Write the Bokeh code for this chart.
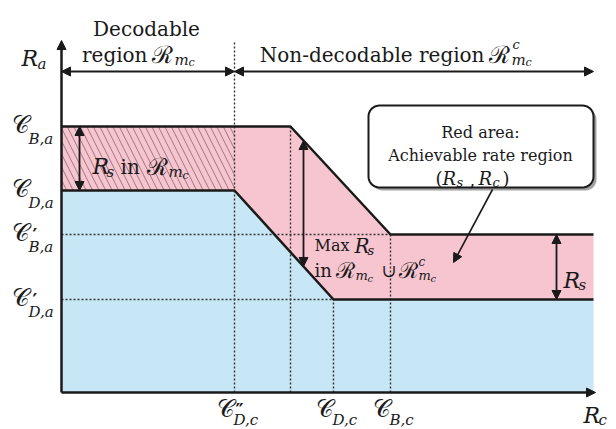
import numpy as np
from bokeh.plotting import figure
from bokeh.models import Range1d, Arrow, NormalHead, ColumnDataSource, Label
from bokeh.embed import file_html
from bokeh.resources import INLINE
from bokeh.core.properties import value

# ---------------- data (rates, arbitrary units) ----------------
rc_tick_values = [173, 272, 329]            # C''_D,c , C_D,c , C_B,c
rc_tick_primes = ["″", "", ""]
rc_tick_subs = ["D,c", "D,c", "B,c"]
ra_tick_values = [266, 202, 158, 93]        # C_B,a , C_D,a , C'_B,a , C'_D,a
ra_tick_primes = ["", "", "′", "′"]
ra_tick_subs = ["B,a", "D,a", "B,a", "D,a"]
upper_knee_rc = 229                         # end of flat upper boundary
rc_max = 532
ra_max = 352

upper_x = [0, upper_knee_rc, rc_tick_values[2], rc_max]
upper_y = [ra_tick_values[0], ra_tick_values[0], ra_tick_values[2], ra_tick_values[2]]
lower_x = [0, rc_tick_values[0], rc_tick_values[1], rc_max]
lower_y = [ra_tick_values[1], ra_tick_values[1], ra_tick_values[3], ra_tick_values[3]]

# ---------------- figure ----------------
W, H = 616, 429
X0, Y0 = 61, 392   # page pixel of the origin
p = figure(width=W, height=H,
           x_range=Range1d(-X0, W - X0),
           y_range=Range1d(Y0 - H, Y0),
           output_backend="svg", toolbar_location=None, min_border=0)
p.axis.visible = False
p.grid.visible = False
p.outline_line_color = None
p.background_fill_color = "white"

INK = "#1a1a1a"
PINK = "#f6c5cf"
BLUE = "#c7e6f6"
SERIF = "DejaVu Serif"


def px(x, y):
    return x - X0, Y0 - y


def t(x, y, s, size, style="normal", align="left", baseline="alphabetic"):
    dx, dy = px(x, y)
    p.add_layout(Label(x=dx, y=dy, text=s, text_font=SERIF,
                       text_font_size=f"{size}px", text_font_style=style,
                       text_align=align, text_baseline=baseline, text_color=INK))


# regions
p.patch([0] + lower_x + [rc_max], [0] + lower_y + [0],
        fill_color=BLUE, line_color=None)
p.patch(upper_x + lower_x[::-1], upper_y + lower_y[::-1],
        fill_color=PINK, line_color=None)
p.quad(left=[0], right=[rc_tick_values[0]], bottom=[ra_tick_values[1]], top=[ra_tick_values[0]],
       fill_alpha=0, line_color=None, hatch_pattern="left_diagonal_line",
       hatch_color="#6a4a52", hatch_alpha=0.8, hatch_scale=13, hatch_weight=0.8)

# dotted guide lines
vx = [rc_tick_values[0], upper_knee_rc, rc_tick_values[1], rc_tick_values[2]]
vtop = [ra_max, ra_tick_values[0], ra_tick_values[3], ra_tick_values[2]]
p.segment(x0=vx, y0=[0] * 4, x1=vx, y1=vtop, line_color="#333333",
          line_width=1.4, line_dash="2 2")
p.segment(x0=[0, 0], y0=[ra_tick_values[2], ra_tick_values[3]],
          x1=[rc_tick_values[2], rc_tick_values[1]], y1=[ra_tick_values[2], ra_tick_values[3]],
          line_color="#333333", line_width=1.4, line_dash="2 2")

# boundaries
p.line(upper_x, upper_y, line_color=INK, line_width=2.5)
p.line(lower_x, lower_y, line_color=INK, line_width=2.5)


def head():
    return NormalHead(size=9, fill_color=INK, line_color=INK)


def arrow(x0, y0, x1, y1, both=False, lw=2):
    p.add_layout(Arrow(x_start=x0, y_start=y0, x_end=x1, y_end=y1,
                       start=head() if both else None, end=head(),
                       line_color=INK, line_width=lw))


# axes
arrow(0, 0, 0, ra_max, lw=2.5)
arrow(0, 0, rc_max + 2, 0, lw=2.5)

# header arrows
hy = ra_max - 31
arrow(0, hy, rc_tick_values[0], hy, both=True, lw=1.8)
arrow(rc_tick_values[0], hy, rc_max, hy, both=True, lw=1.8)

# vertical double arrows
a1x = 18
arrow(a1x, ra_tick_values[1], a1x, ra_tick_values[0], both=True, lw=1.8)
a2x = 242
arrow(a2x, float(np.interp(a2x, lower_x, lower_y)), a2x,
      float(np.interp(a2x, upper_x, upper_y)), both=True, lw=1.8)
a3x = 495
arrow(a3x, ra_tick_values[3], a3x, ra_tick_values[2], both=True, lw=1.8)

# tick labels
src_rc = ColumnDataSource(dict(x=rc_tick_values, y=[0] * 3, main=["𝒞"] * 3,
                               prime=rc_tick_primes, sub=rc_tick_subs))
p.text(x="x", y="y", text="main", source=src_rc, x_offset=-18, y_offset=16,
       text_baseline="middle", text_font=value(SERIF), text_font_size="24px", text_color=INK)
p.text(x="x", y="y", text="prime", source=src_rc, x_offset=1, y_offset=18,
       text_baseline="alphabetic", text_font=value(SERIF), text_font_size="18px",
       text_font_style="bold", text_color=INK)
p.text(x="x", y="y", text="sub", source=src_rc, x_offset=-1, y_offset=27,
       text_baseline="alphabetic", text_font=value(SERIF), text_font_size="15px",
       text_font_style="italic", text_color=INK)

src_ra = ColumnDataSource(dict(x=[0] * 4, y=ra_tick_values, main=["𝒞"] * 4,
                               prime=ra_tick_primes, sub=ra_tick_subs))
p.text(x="x", y="y", text="main", source=src_ra, x_offset=-50, y_offset=-2,
       text_baseline="middle", text_font=value(SERIF), text_font_size="24px", text_color=INK)
p.text(x="x", y="y", text="prime", source=src_ra, x_offset=-29, y_offset=1,
       text_baseline="alphabetic", text_font=value(SERIF), text_font_size="18px",
       text_font_style="bold", text_color=INK)
p.text(x="x", y="y", text="sub", source=src_ra, x_offset=-33, y_offset=12,
       text_baseline="alphabetic", text_font=value(SERIF), text_font_size="15px",
       text_font_style="italic", text_color=INK)

# axis names
t(21, 58, "R", 22, "italic"); t(37, 63, "a", 15, "italic")
t(583, 415, "R", 22, "italic"); t(598, 419, "c", 15, "italic")

# header texts
t(146, 28, "Decodable", 20, align="center")
t(147, 54, "region", 20, align="right")
t(151, 54, "ℛ", 24); t(174, 59, "m", 15, "italic"); t(188, 62, "c", 11, "italic")
t(484, 54, "Non-decodable region", 20, align="right")
t(488, 54, "ℛ", 24); t(512, 44, "c", 13, "italic")
t(511, 59, "m", 15, "italic"); t(525, 62, "c", 11, "italic")

# hatched label
t(92, 166, "R", 22, "italic"); t(106, 171, "s", 15, "italic")
t(120, 166, "in", 20); t(146, 166, "ℛ", 24)
t(168, 171, "m", 15, "italic"); t(182, 175, "c", 11, "italic")

# Max Rs label
t(314, 245, "Max", 16); t(354, 245, "R", 20, "italic"); t(367, 250, "s", 13, "italic")
t(314, 270, "in", 18); t(335, 270, "ℛ", 22); t(355, 275, "m", 13, "italic")
t(367, 278, "c", 10, "italic"); t(381, 270, "∪", 18); t(398, 270, "ℛ", 22)
t(418, 261, "c", 12, "italic"); t(418, 275, "m", 13, "italic"); t(430, 278, "c", 10, "italic")

# right Rs label
t(563, 280, "R", 22, "italic"); t(578, 284, "s", 15, "italic")

# callout box
def rounded_rect(x0, y0, x1, y1, r, n=10):
    xs, ys = [], []
    for cx, cy, a0, a1 in [(x1 - r, y1 - r, 0, 90), (x0 + r, y1 - r, 90, 180),
                           (x0 + r, y0 + r, 180, 270), (x1 - r, y0 + r, 270, 360)]:
        for a in np.linspace(np.radians(a0), np.radians(a1), n):
            xs.append(cx + r * np.cos(a)); ys.append(cy + r * np.sin(a))
    return xs, ys

bx0, by1 = px(368, 105)
bx1, by0 = px(593, 187)
sx, sy = rounded_rect(bx0 + 3, by0 - 3, bx1 + 3, by1 - 3, 11)
p.patch(sx, sy, fill_color="#555555", fill_alpha=0.55, line_color=None)
rx, ry = rounded_rect(bx0, by0, bx1, by1, 11)
p.patch(rx, ry, fill_color="white", line_color=INK, line_width=2)

t(480, 132, "Red area:", 16, align="center")
t(480, 155, "Achievable rate region", 16, align="center")
t(435, 178, "(", 18); t(442, 178, "R", 18, "italic"); t(456, 182, "s", 13, "italic")
t(469, 178, ",", 18); t(478, 178, "R", 18, "italic"); t(492, 182, "c", 13, "italic")
t(502, 178, ")", 18)

# pointer
q0 = px(492, 189); q1 = px(453, 262)
arrow(q0[0], q0[1], q1[0], q1[1], lw=1.6)

open("out.html", "w").write(file_html(p, INLINE))
